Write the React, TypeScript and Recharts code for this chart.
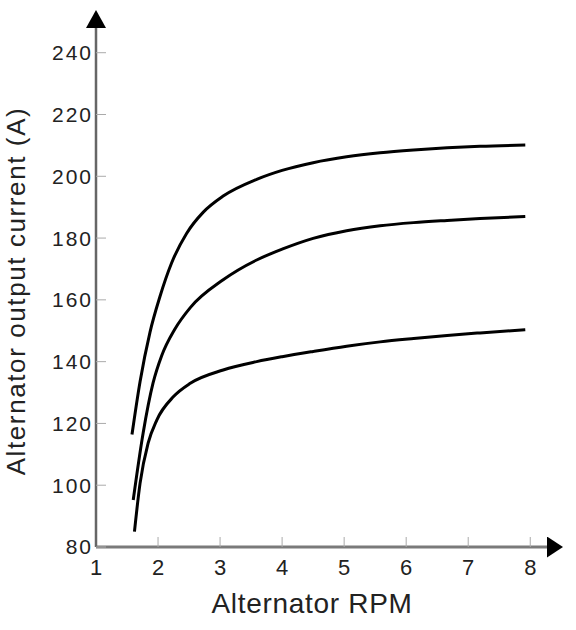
import React from "react";
import { LineChart, Line, XAxis, YAxis } from "recharts";

// Alternator RPM (x1000) and output current (A) for the three curves
const rpmHigh = [1.58, 1.71, 1.87, 2.03, 2.22, 2.46, 2.73, 3.05, 3.59, 4.0, 4.5, 5.04, 5.58, 6.12, 6.66, 7.19, 7.92];
const ampsHigh = [116.4, 133.5, 149.5, 161, 172, 181.5, 188.4, 193.6, 199, 201.9, 204.4, 206.3, 207.6, 208.5, 209.2, 209.7, 210.1];

const rpmMid = [1.6, 1.76, 1.92, 2.06, 2.27, 2.52, 3.05, 3.59, 4.0, 4.5, 5.04, 5.58, 6.12, 6.66, 7.19, 7.92];
const ampsMid = [95.2, 116.9, 133.1, 142, 150.5, 157.5, 166.5, 172.9, 176.4, 179.9, 182.4, 184, 185, 185.7, 186.3, 187];

const rpmLow = [1.62, 1.71, 1.84, 1.98, 2.25, 2.52, 3.05, 3.59, 4.0, 4.5, 5.04, 5.58, 6.12, 6.66, 7.19, 7.92];
const ampsLow = [85, 100.6, 113.6, 121.1, 128.7, 133, 137.3, 140, 141.6, 143.3, 145, 146.4, 147.5, 148.5, 149.3, 150.3];

const xTicks = [1, 2, 3, 4, 5, 6, 7, 8];
const yTicks = [80, 100, 120, 140, 160, 180, 200, 220, 240];

const toPoints = (xs: number[], ys: number[]) => xs.map((x, i) => ({ x, y: ys[i] }));

const FONT = "'Liberation Sans', Arial, Helvetica, sans-serif";

export default function App() {
  const high = toPoints(rpmHigh, ampsHigh);
  const mid = toPoints(rpmMid, ampsMid);
  const low = toPoints(rpmLow, ampsLow);

  return (
    <div style={{ position: "absolute", left: 0, top: 0, width: 576, height: 630, background: "#fff" }}>
      <LineChart width={576} height={630} margin={{ top: 28, right: 29, bottom: 53, left: 36 }}>
        <defs>
          <marker
            id="arrowY"
            viewBox="0 0 10 10"
            refX="0"
            refY="5"
            markerUnits="userSpaceOnUse"
            markerWidth="18"
            markerHeight="20"
            preserveAspectRatio="none"
            orient="auto-start-reverse"
          >
            <path d="M0,0 L10,5 L0,10 z" fill="#000" />
          </marker>
          <marker
            id="arrowX"
            viewBox="0 0 10 10"
            refX="0"
            refY="5"
            markerUnits="userSpaceOnUse"
            markerWidth="16"
            markerHeight="21"
            preserveAspectRatio="none"
            orient="auto"
          >
            <path d="M0,0 L10,5 L0,10 z" fill="#000" />
          </marker>
        </defs>
        <XAxis
          dataKey="x"
          type="number"
          domain={[1, 8.27]}
          ticks={xTicks}
          allowDataOverflow
          height={30}
          axisLine={{ stroke: "#7a7a7a", strokeWidth: 3, markerEnd: "url(#arrowX)" }}
          tickLine={{ stroke: "#aaa", strokeWidth: 1 }}
          tickSize={-10}
          tickMargin={22}
          tick={{ fill: "#222", fontSize: 22, fontFamily: FONT }}
        />
        <YAxis
          dataKey="y"
          type="number"
          domain={[80, 248]}
          ticks={yTicks}
          allowDataOverflow
          width={60}
          axisLine={{ stroke: "#666", strokeWidth: 2.5, markerStart: "url(#arrowY)" }}
          tickLine={{ stroke: "#aaa", strokeWidth: 1 }}
          tickSize={-10}
          tickMargin={13}
          tick={{ fill: "#222", fontSize: 21, fontFamily: FONT, letterSpacing: 2 }}
        />
        <Line data={high} dataKey="y" type="monotone" stroke="#000" strokeWidth={3} dot={false} activeDot={false} isAnimationActive={false} />
        <Line data={mid} dataKey="y" type="monotone" stroke="#000" strokeWidth={3} dot={false} activeDot={false} isAnimationActive={false} />
        <Line data={low} dataKey="y" type="monotone" stroke="#000" strokeWidth={3} dot={false} activeDot={false} isAnimationActive={false} />
        <text x={312} y={613} textAnchor="middle" fontSize={28} fontFamily={FONT} fill="#222" letterSpacing={0.7}>
          Alternator RPM
        </text>
        <text
          x={25}
          y={291}
          textAnchor="middle"
          fontSize={26}
          fontFamily={FONT}
          fill="#222"
          letterSpacing={1.6}
          transform="rotate(-90, 25, 291)"
        >
          Alternator output current (A)
        </text>
      </LineChart>
    </div>
  );
}
